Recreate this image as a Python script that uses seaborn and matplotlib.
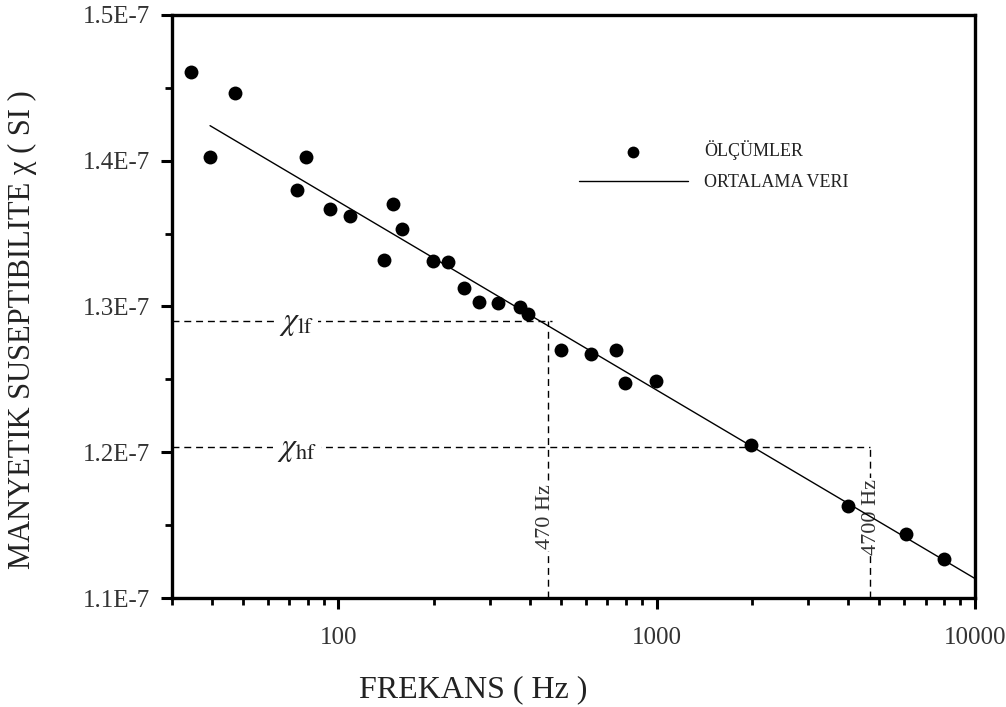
import numpy as np
import pandas as pd
import matplotlib
matplotlib.use("Agg")
import matplotlib.pyplot as plt
import matplotlib.ticker as mticker
import seaborn as sns

# ---- data ----
freq = [34.4, 39.4, 47.4, 74.1, 79.1, 93.9, 108.5, 139, 148.8, 158.8,
        197.9, 221.8, 247.4, 277.1, 318.1, 371.5, 395.5, 498.9, 620.4,
        747.6, 796.6, 992.7, 1979, 4004, 6058, 7985]
chi_e7 = [1.461, 1.4024, 1.4467, 1.3799, 1.4024, 1.3669, 1.3621, 1.3319,
          1.3701, 1.3532, 1.3310, 1.3305, 1.3125, 1.3033, 1.3022, 1.2999,
          1.2947, 1.2702, 1.2674, 1.2702, 1.2477, 1.2489, 1.2050, 1.1631,
          1.1439, 1.1268]
fit_freq = [39.5, 10000]
fit_chi_e7 = [1.424, 1.1135]

chi_lf = 1.290e-7
chi_hf = 1.2036e-7
f_lf_pos = 455      # where the "470 Hz" guide is drawn
f_hf_pos = 4700

xticks_major = [100, 1000, 10000]
yticks_major = [1.1e-7, 1.2e-7, 1.3e-7, 1.4e-7, 1.5e-7]
ytick_labels = ["1.1E-7", "1.2E-7", "1.3E-7", "1.4E-7", "1.5E-7"]

meas = pd.DataFrame({"f": freq, "chi": np.array(chi_e7) * 1e-7})
fit = pd.DataFrame({"f": fit_freq, "chi": np.array(fit_chi_e7) * 1e-7})

sns.set_theme(style="white")
plt.rcParams["font.family"] = ["Liberation Serif", "DejaVu Serif"]
plt.rcParams["mathtext.fontset"] = "stix"

fig = plt.figure(figsize=(10.06, 7.07), dpi=100)
ax = fig.add_axes([0.171, 0.154, 0.798, 0.825])

sns.scatterplot(data=meas, x="f", y="chi", color="black", s=100,
                linewidth=0, label="ÖLÇÜMLER", ax=ax, zorder=4)
sns.lineplot(data=fit, x="f", y="chi", color="black", lw=1.0,
             label="ORTALAMA VERI", ax=ax, zorder=3)

ax.set_xscale("log")
ax.set_xlim(30, 10000)
ax.set_ylim(1.1e-7, 1.5e-7)

# guide lines
dash = (0, (5, 3.5))
ax.hlines(chi_lf, 30, f_lf_pos * 1.03, colors="black", lw=1.0, linestyles=dash, zorder=1)
ax.vlines(f_lf_pos, 1.1e-7, chi_lf, colors="black", lw=1.0, linestyles=dash, zorder=1)
ax.hlines(chi_hf, 30, f_hf_pos, colors="black", lw=1.0, linestyles=dash, zorder=1)
ax.vlines(f_hf_pos, 1.1e-7, chi_hf, colors="black", lw=1.0, linestyles=dash, zorder=1)

box = dict(facecolor="white", edgecolor="none", pad=3)
ax.text(74, chi_lf - 0.002e-7, r"$\chi_{\rm lf}$", fontsize=23, ha="center",
        va="center", bbox=box, zorder=2, color="#222222")
ax.text(74, chi_hf - 0.002e-7, r"$\chi_{\rm hf}$", fontsize=23, ha="center",
        va="center", bbox=box, zorder=2, color="#222222")
ax.text(f_lf_pos * 0.985, 1.1556e-7, "470 Hz", rotation=90, fontsize=16, ha="center",
        va="center", bbox=dict(facecolor="white", edgecolor="none", pad=1),
        zorder=2, color="#333333")
ax.text(f_hf_pos * 1.005, 1.1556e-7, "4700 Hz", rotation=90, fontsize=16, ha="center",
        va="center", bbox=dict(facecolor="white", edgecolor="none", pad=1),
        zorder=2, color="#333333")

# ticks
ax.xaxis.set_major_locator(mticker.FixedLocator(xticks_major))
ax.xaxis.set_minor_locator(mticker.LogLocator(base=10, subs=np.arange(2, 10)))
ax.xaxis.set_major_formatter(mticker.FuncFormatter(lambda v, p: f"{int(round(v))}"))
ax.xaxis.set_minor_formatter(mticker.NullFormatter())
ax.yaxis.set_major_locator(mticker.FixedLocator(yticks_major))
ax.yaxis.set_major_formatter(mticker.FixedFormatter(ytick_labels))
ax.yaxis.set_minor_locator(mticker.MultipleLocator(0.05e-7))

ax.tick_params(axis="both", which="major", direction="out", length=8, width=2.2,
               labelsize=18, color="black", labelcolor="#333333",
               bottom=True, left=True, top=False, right=False)
ax.tick_params(axis="both", which="minor", direction="out", length=5, width=2.0,
               color="black", bottom=True, left=True, top=False, right=False)
ax.tick_params(axis="x", which="major", pad=13)
ax.tick_params(axis="y", which="major", pad=8)

for s in ax.spines.values():
    s.set_visible(True)
    s.set_color("black")
    s.set_linewidth(2.4)

ax.set_xlabel("FREKANS ( Hz )", fontsize=23, color="#222222")
ax.xaxis.set_label_coords(0.375, -0.132)
ax.set_ylabel("MANYETIK SUSEPTIBILITE χ ( SI )", fontsize=22, color="#222222")
ax.yaxis.set_label_coords(-0.168, 0.46)

handles, labels = ax.get_legend_handles_labels()
leg = ax.legend(handles, labels, loc="upper left", bbox_to_anchor=(0.496, 0.800),
                frameon=False, fontsize=13, handlelength=6.0, handletextpad=0.9,
                labelspacing=0.75, borderpad=0, markerscale=0.85)
for t in leg.get_texts():
    t.set_color("#222222")

fig.savefig("out.png", dpi=100, facecolor="white")
